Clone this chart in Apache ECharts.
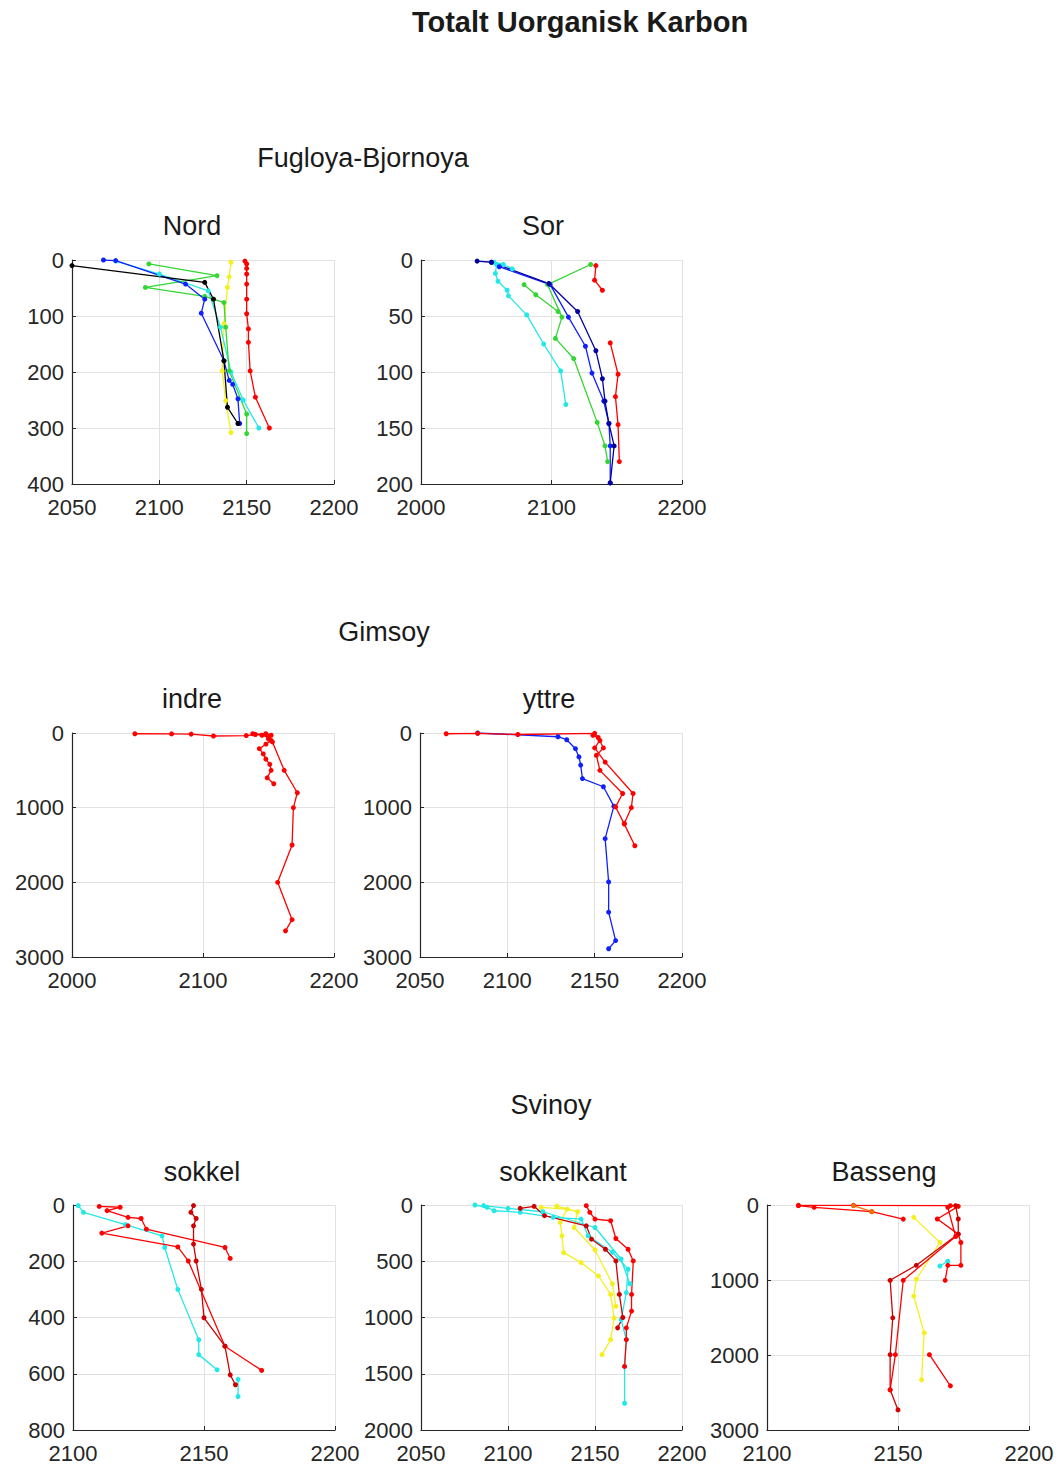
<!DOCTYPE html>
<html>
<head>
<meta charset="utf-8">
<script src="https://cdn.jsdelivr.net/npm/echarts@6/dist/echarts.min.js"></script>
<style>
html,body{margin:0;padding:0;background:#fff;}
#chart{width:1061px;height:1467px;}
</style>
</head>
<body>
<div id="chart"></div>
<script>
// ---------- titles ----------
const mainTitle = "Totalt Uorganisk Karbon";
const sectionTitles = ["Fugloya-Bjornoya", "Gimsoy", "Svinoy"];
const panelTitles = ["Nord", "Sor", "indre", "yttre", "sokkel", "sokkelkant", "Basseng"];

// ---------- axis ranges / ticks ----------
const xMins = [2050, 2000, 2000, 2050, 2100, 2050, 2100];
const xMaxs = [2200, 2200, 2200, 2200, 2200, 2200, 2200];
const xSteps = [50, 100, 100, 50, 50, 50, 50];
const yMaxs = [400, 200, 3000, 3000, 800, 2000, 3000];
const ySteps = [100, 50, 1000, 1000, 200, 500, 1000];

// ---------- data: [TIC, depth] ----------
// Nord
const nordBlack  = [[2050,10],[2126,40],[2131,70],[2137,180],[2139,263],[2145,292]];
const nordBlue   = [[2068,0],[2075,1],[2115,43],[2126,70],[2124,95],[2137,180],[2140,215],[2142,222],[2145,248],[2146,292]];
const nordCyan   = [[2075,2],[2100,25],[2128,55],[2135,120],[2141,200],[2148,250],[2157,300]];
const nordGreen  = [[2094,7],[2133,28],[2092,49],[2126,65],[2131,70],[2137,76],[2138,120],[2140,198],[2150,275],[2150,310]];
const nordYellow = [[2141,4],[2140,30],[2139,49],[2137,114],[2136,198],[2138,251],[2141,308]];
const nordRed    = [[2149,2],[2150,7],[2150,15],[2150,25],[2150,43],[2150,70],[2150,96],[2151,123],[2151,147],[2152,198],[2155,245],[2163,300]];
// Sor
const sorNavy   = [[2043,1],[2054,2],[2098,21],[2120,46],[2134,81],[2139,106],[2141,126],[2144,146],[2148,166],[2145,199]];
const sorBlue   = [[2054,2],[2060,6],[2099,22],[2113,51],[2126,77],[2131,101],[2140,126],[2144,146],[2145,166],[2145,199]];
const sorCyan1  = [[2058,4],[2057,12],[2059,19],[2066,27],[2067,32],[2081,49],[2094,75],[2107,99],[2111,129]];
const sorCyan2  = [[2056,2],[2063,4],[2070,8]];
const sorGreen1 = [[2130,4],[2097,22],[2108,51],[2103,70],[2117,88],[2135,145],[2141,166],[2143,180]];
const sorGreen2 = [[2079,22],[2088,31],[2105,46]];
const sorRed1   = [[2134,5],[2133,18],[2139,27]];
const sorRed2   = [[2145,74],[2151,102],[2149,122],[2151,147],[2152,180]];
// indre
const indreRed1 = [[2048,10],[2076,12],[2091,15],[2108,40],[2133,35],[2140,20],[2148,10],[2152,30],[2150,80],[2153,120],[2162,500],[2172,800],[2169,1000],[2168,1500],[2157,2000],[2168,2500],[2163,2650]];
const indreRed2 = [[2138,10],[2145,30],[2150,60],[2152,100],[2148,150],[2143,210],[2146,280],[2148,350],[2151,420],[2152,500],[2149,600],[2154,680]];
// yttre
const yttreRed1 = [[2065,10],[2083,5],[2106,20],[2150,5],[2153,100],[2150,200],[2156,390],[2172,810],[2171,1000],[2167,1210]];
const yttreRed2 = [[2149,30],[2152,60],[2155,200],[2151,300],[2153,500],[2166,810],[2162,990],[2167,1220],[2173,1510]];
const yttreBlue = [[2083,0],[2129,50],[2134,90],[2139,210],[2141,320],[2142,430],[2143,610],[2155,720],[2161,980],[2156,1415],[2158,1995],[2158,2400],[2162,2780],[2158,2890]];
// sokkel
const sokRed1  = [[2110,5],[2118,8],[2113,20],[2121,44],[2126,48],[2128,86],[2158,151],[2160,190]];
const sokRed2  = [[2121,74],[2111,100],[2140,149],[2144,199],[2158,502],[2172,588]];
const sokRed3  = [[2146,2],[2145,26],[2147,48],[2146,74],[2146,139],[2147,199],[2149,300],[2150,401],[2158,502],[2160,604],[2162,639]];
const sokCyan1 = [[2102,2],[2104,26],[2120,70],[2134,110],[2135,151],[2140,300],[2148,479],[2148,532],[2155,586]];
const sokCyan2 = [[2163,620],[2163,681]];
// sokkelkant
const kantCyan1 = [[2081,0],[2088,21],[2092,51],[2107,65],[2126,110],[2142,125],[2146,274],[2160,420],[2169,571],[2168,780],[2165,1018],[2168,1196],[2167,1435],[2167,1762]];
const kantCyan2 = [[2086,5],[2100,30],[2120,60],[2150,200],[2165,480],[2170,700]];
const kantYellow1 = [[2119,21],[2134,36],[2130,155],[2131,274],[2132,423],[2142,512],[2152,631],[2159,795],[2161,1006],[2159,1196],[2154,1330]];
const kantYellow2 = [[2128,10],[2140,60],[2138,200],[2150,400],[2160,700],[2162,900]];
const kantRed1 = [[2107,30],[2115,12],[2121,95],[2145,185],[2148,304],[2156,393],[2162,497],[2164,795],[2166,1000],[2163,1092]];
const kantRed2 = [[2145,6],[2147,65],[2150,125],[2159,140],[2162,298],[2169,393],[2172,497],[2171,795],[2171,943],[2168,1092],[2168,1196],[2167,1435]];
// Basseng
const basRedA = [[2112,9],[2118,31],[2140,89],[2152,188]];
const basRedB = [[2112,5],[2133,5],[2170,9],[2173,18],[2165,187],[2173,388],[2174,500],[2174,804],[2169,804],[2168,1004]];
const basRedC = [[2172,10],[2173,187],[2173,388],[2157,804],[2147,1004],[2148,1504],[2147,1996],[2147,2464],[2150,2732]];
const basRedD = [[2169,31],[2172,420],[2152,1004],[2149,1996],[2147,2464]];
const basRedE = [[2162,1996],[2170,2411]];
const basOrange = [[2133,9],[2140,89]];
const basYellow = [[2156,165],[2166,500],[2157,990],[2156,1214],[2160,1705],[2159,2330]];
const basCyan = [[2169,750],[2166,813]];

// ---------- layout ----------
const grids = [
  {left:72, top:260, width:262, height:224},
  {left:421, top:260, width:261, height:224},
  {left:72, top:733, width:262, height:224},
  {left:420, top:733, width:262, height:224},
  {left:73, top:1205, width:262, height:225},
  {left:421, top:1205, width:261, height:225},
  {left:767, top:1205, width:262, height:225}
];

const C = {red:'#ff0000', dred:'#d00000', blue:'#1020ff', navy:'#0000a0', cyan:'#22e8e8', green:'#33d633', yellow:'#f4f020', black:'#000000', orange:'#f07000'};

const seriesDefs = [
  [0, C.yellow, nordYellow],[0, C.red, nordRed],[0, C.cyan, nordCyan],[0, C.green, nordGreen],[0, C.blue, nordBlue],[0, C.black, nordBlack],
  [1, C.cyan, sorCyan1],[1, C.cyan, sorCyan2],[1, C.green, sorGreen1],[1, C.green, sorGreen2],[1, C.red, sorRed1],[1, C.red, sorRed2],[1, C.blue, sorBlue],[1, C.navy, sorNavy],
  [2, C.red, indreRed1],[2, C.red, indreRed2],
  [3, C.blue, yttreBlue],[3, C.red, yttreRed1],[3, C.red, yttreRed2],
  [4, C.cyan, sokCyan1],[4, C.cyan, sokCyan2],[4, C.red, sokRed1],[4, C.red, sokRed2],[4, C.dred, sokRed3],
  [5, C.yellow, kantYellow1],[5, C.yellow, kantYellow2],[5, C.cyan, kantCyan1],[5, C.cyan, kantCyan2],[5, C.red, kantRed2],[5, C.dred, kantRed1],
  [6, C.yellow, basYellow],[6, C.cyan, basCyan],[6, C.red, basRedA],[6, C.red, basRedB],[6, C.dred, basRedC],[6, C.red, basRedD],[6, C.red, basRedE],[6, C.orange, basOrange]
];

const FONT = '"Liberation Sans", Arial, Helvetica, sans-serif';
const plainNum = v => String(v);
const axisCommon = {
  axisLine:{show:true, onZero:false, lineStyle:{color:'#262626', width:1.2}},
  axisTick:{show:true, inside:true, length:4, lineStyle:{color:'#262626'}},
  splitLine:{show:true, lineStyle:{color:'#e2e2e2', width:1}},
  axisLabel:{fontSize:22, color:'#262626', fontFamily:FONT, formatter:plainNum}
};

const xAxes = grids.map((g,i)=>Object.assign({}, axisCommon, {
  type:'value', gridIndex:i, min:xMins[i], max:xMaxs[i], interval:xSteps[i], position:'bottom',
  axisLabel:Object.assign({}, axisCommon.axisLabel, {margin:12})
}));
const yAxes = grids.map((g,i)=>Object.assign({}, axisCommon, {
  type:'value', gridIndex:i, min:0, max:yMaxs[i], interval:ySteps[i], inverse:true, position:'left',
  axisLabel:Object.assign({}, axisCommon.axisLabel, {margin:8})
}));

const series = seriesDefs.map(([gi, col, d])=>({
  type:'line', xAxisIndex:gi, yAxisIndex:gi, data:d,
  symbol:'circle', symbolSize:5, showSymbol:true,
  lineStyle:{color:col, width:1.3}, itemStyle:{color:col},
  animation:false, silent:true
}));

const titleSpecs = [
  [mainTitle, 580, 22, 29, 'bold'],
  [sectionTitles[0], 363, 158, 27, 'normal'],
  [panelTitles[0], 192, 226, 27, 'normal'],
  [panelTitles[1], 543, 226, 27, 'normal'],
  [sectionTitles[1], 384, 632, 27, 'normal'],
  [panelTitles[2], 192, 699, 27, 'normal'],
  [panelTitles[3], 549, 699, 27, 'normal'],
  [sectionTitles[2], 551, 1105, 27, 'normal'],
  [panelTitles[4], 202, 1172, 27, 'normal'],
  [panelTitles[5], 563, 1172, 27, 'normal'],
  [panelTitles[6], 884, 1172, 27, 'normal']
];
const titles = titleSpecs.map(([t,x,y,fs,fw])=>({
  text:t, left:x, top:y - fs/2 - 1, textAlign:'center', padding:0,
  textStyle:{fontSize:fs, fontWeight:fw, color:'#1a1a1a', fontFamily:FONT, lineHeight:fs+2}
}));

const chart = echarts.init(document.getElementById('chart'), null, {renderer:'svg'});
chart.setOption({
  animation:false,
  backgroundColor:'#ffffff',
  title:titles,
  grid:grids,
  xAxis:xAxes,
  yAxis:yAxes,
  series:series
});
</script>
</body>
</html>
